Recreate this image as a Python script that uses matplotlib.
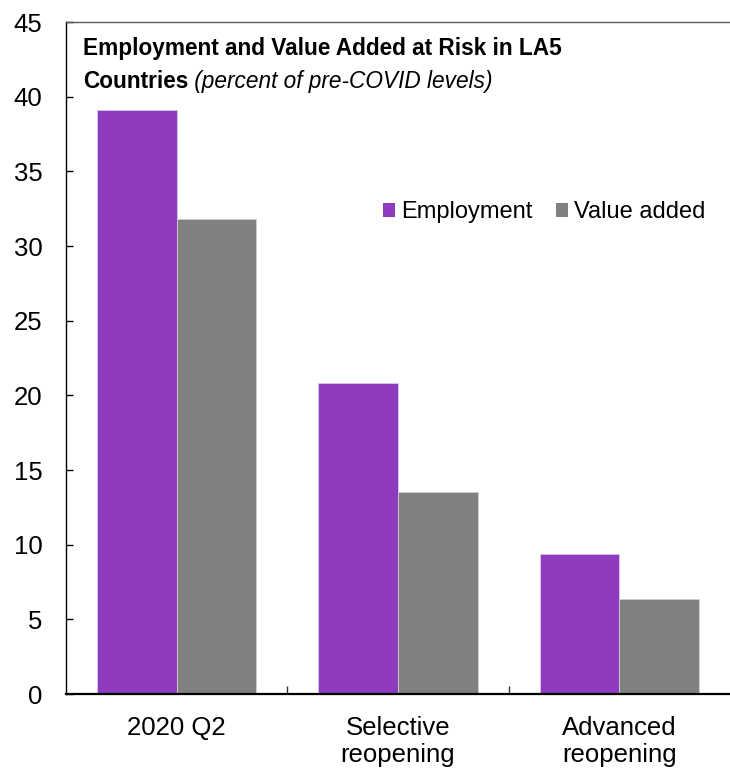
import matplotlib
matplotlib.use("Agg")
import matplotlib.pyplot as plt
import numpy as np
from matplotlib.patches import Patch

plt.rcParams['font.family'] = ['Liberation Sans', 'DejaVu Sans']

categories = ["2020 Q2", "Selective\nreopening", "Advanced\nreopening"]
employment = [39.1, 20.8, 9.4]
value_added = [31.8, 13.5, 6.35]
series_names = ["Employment", "Value added"]
title_line1 = "Employment and Value Added at Risk in LA5"
title_line2_bold = "Countries"
title_line2_italic = " (percent of pre-COVID levels)"

c_emp = '#8E3BBE'
c_va = '#808080'

fig = plt.figure(figsize=(7.30, 7.71), dpi=100)
ax = fig.add_axes([66/730, 77/771, 664/730, 672/771])

x = np.arange(len(categories))
w = 0.36
ax.bar(x - w/2, employment, w, color=c_emp, edgecolor='#d8c8e8', linewidth=0.6, zorder=2)
ax.bar(x + w/2, value_added, w, color=c_va, edgecolor='#d0d0d0', linewidth=0.6, zorder=2)

ax.set_xlim(-0.5, 2.5)
ax.set_ylim(0, 45)
ax.set_yticks(np.arange(0, 46, 5))
ax.set_xticks(x)
ax.set_xticklabels(categories, linespacing=1.15)
ax.set_xticks([0.5, 1.5], minor=True)

ax.tick_params(axis='y', direction='in', length=5, width=1, pad=17, labelsize=18.5, colors='#000000')
ax.tick_params(axis='x', which='major', length=0, pad=16, labelsize=18.5)
ax.tick_params(axis='x', which='minor', direction='in', length=6, width=1, color='#333333')

ax.spines['right'].set_visible(False)
ax.spines['top'].set_color('#595959')
ax.spines['top'].set_linewidth(1.0)
ax.spines['left'].set_color('#000000')
ax.spines['left'].set_linewidth(1.0)
ax.spines['bottom'].set_color('#000000')
ax.spines['bottom'].set_linewidth(1.6)

handles = [Patch(facecolor=c_emp), Patch(facecolor=c_va)]
ax.legend(handles, series_names, ncol=2, frameon=False, fontsize=17,
          loc='center right', bbox_to_anchor=(0.9625, 0.717),
          handlelength=0.5, handleheight=0.5, handletextpad=0.25,
          columnspacing=1.0, borderpad=0, borderaxespad=0)

tx = (83 - 66) / 664
t1 = ax.text(tx, (694 - 55) / 672, title_line1, transform=ax.transAxes,
             fontsize=16.3, fontweight='bold', va='baseline', ha='left')
y2 = (694 - 88) / 672
t2 = ax.text(tx, y2, title_line2_bold, transform=ax.transAxes,
             fontsize=16.3, fontweight='bold', va='baseline', ha='left')
fig.canvas.draw()
bb = t2.get_window_extent()
x_end = ax.transAxes.inverted().transform((bb.x1, bb.y0))[0]
ax.text(x_end, y2, title_line2_italic, transform=ax.transAxes,
        fontsize=16.3, fontstyle='italic', va='baseline', ha='left')

fig.savefig("out.png", dpi=100)
